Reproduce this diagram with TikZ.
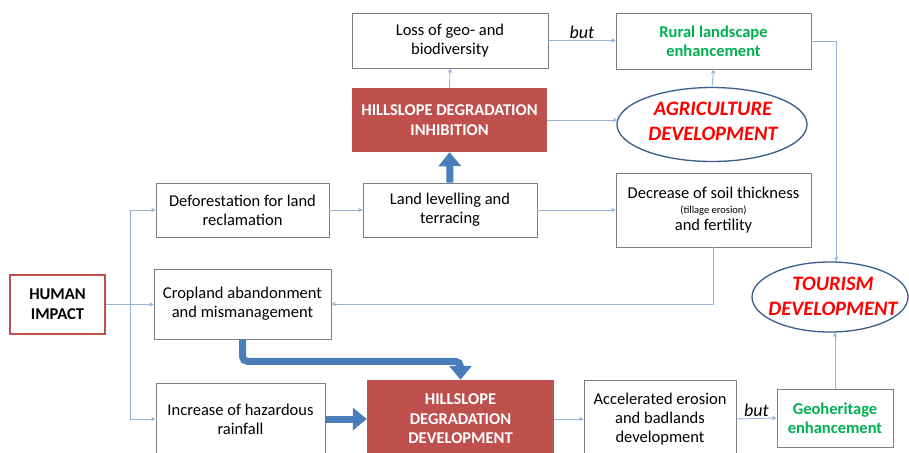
\documentclass[tikz,border=0pt]{standalone}
\usepackage{fontspec}
\setmainfont{Carlito}
\usetikzlibrary{arrows.meta,shapes.geometric,calc}
\definecolor{boxgray}{HTML}{7F7F7F}
\definecolor{hred}{HTML}{C0504D}
\definecolor{ellblue}{HTML}{385D8A}
\definecolor{thinblue}{HTML}{95B3D7}
\definecolor{thickblue}{HTML}{4A7EBB}
\definecolor{ggreen}{HTML}{00B050}
\tikzset{
  box/.style={draw=boxgray, line width=0.9pt, fill=white, align=center, inner sep=0pt,
    font=\fontsize{16.5}{19}\selectfont},
  redbox/.style={fill=hred, text=white, align=center, inner sep=0pt,
    font=\fontsize{16.5}{19.5}\selectfont\bfseries},
  ellshape/.style={ellipse, draw=ellblue, line width=1.3pt, fill=white, inner sep=0pt},
  elltext/.style={text=red, align=center, inner sep=0pt,
    font=\fontsize{20.5}{25}\selectfont\bfseries\itshape},
  thinline/.style={draw=thinblue, line width=0.9pt, -{Stealth[length=4.5pt,width=4.5pt]}},
  thickline/.style={draw=thickblue, line width=7pt, -{Triangle[length=14pt,width=22pt]}},
  butlabel/.style={font=\fontsize{18}{20}\selectfont\itshape, inner sep=1pt}
}
\begin{document}
\begin{tikzpicture}[x=1pt,y=-1pt]
\useasboundingbox (0,0) rectangle (909,452);
\clip (0,0) rectangle (909,452);
% nodes
\node[box, draw=hred, line width=1.3pt, font=\fontsize{16.5}{20}\selectfont\bfseries,
  minimum width=95pt, minimum height=59pt] (human) at (57.5,304.5) {HUMAN\\IMPACT};
\node[box, minimum width=173pt, minimum height=54pt] (defo) at (242.5,210) {Deforestation for land\\reclamation};
\node[box, minimum width=177pt, minimum height=70pt] (crop) at (242.5,304) {Cropland abandonment\\and mismanagement};
\node[box, minimum width=169pt, minimum height=72pt] (rain) at (240.5,419) {Increase of hazardous\\rainfall};
\node[box, minimum width=174pt, minimum height=54pt] (level) at (450,210) {Land levelling and\\terracing};
\node[box, minimum width=196pt, minimum height=55pt] (loss) at (450,40.5) {Loss of geo- and\\biodiversity};
\node[redbox, minimum width=195pt, minimum height=64pt] (inhib) at (449.5,120) {HILLSLOPE DEGRADATION\\INHIBITION};
\node[box, text=ggreen, font=\fontsize{16.5}{19}\selectfont\bfseries,
  minimum width=195pt, minimum height=56pt] (rural) at (713.5,41) {Rural landscape\\enhancement};
\node[ellshape, minimum width=190pt, minimum height=74pt] (agri) at (712,124.5) {};
\node[elltext] (agritext) at (713,121) {AGRICULTURE\\DEVELOPMENT};
\node[box, minimum width=195pt, minimum height=74pt] (decr) at (713.5,210)
  {Decrease of soil thickness\\[-4pt]{\fontsize{10.5}{12}\selectfont (tillage erosion)}\\[-2pt]and fertility};
\node[ellshape, minimum width=156pt, minimum height=70pt] (tour) at (830,297) {};
\node[elltext] (tourtext) at (833,296) {TOURISM\\DEVELOPMENT};
\node[box, minimum width=152pt, minimum height=78pt] (accel) at (660,419) {Accelerated erosion\\and badlands\\development};
\node[box, text=ggreen, font=\fontsize{16.5}{19}\selectfont\bfseries,
  minimum width=116pt, minimum height=58pt] (geo) at (835,418) {Geoheritage\\enhancement};
\node[redbox, minimum width=187pt, minimum height=78pt] (dev) at (460.5,419) {HILLSLOPE\\DEGRADATION\\DEVELOPMENT};
% thin connectors
\coordinate (j) at (130,304.5);
\draw[thinline] (human.east) -- (crop.west |- human.east);
\draw[thinline] (j) |- (defo.west);
\draw[thinline] (j) |- (rain.west);
\draw[thinline] (defo.east) -- (level.west);
\draw[thinline] (level.east) -- (decr.west);
\draw[thinline] (inhib.north) -- (loss.south);
\draw[thinline] (inhib.east) -- ($(inhib.east -| agri.west)+(1,0)$);
\draw[thinline] (loss.east) -- node[butlabel, above] (but1) {but} (rural.west |- loss.east);
\draw[thinline] (agri.north) -- (rural.south);
\draw[thinline] (rural.east) -| ([xshift=6pt]tour.north);
\draw[thinline] (decr.south) |- (crop.east);
\draw[thinline] (dev.east) -- (accel.west);
\draw[thinline] (accel.east) -- node[butlabel, above] (but2) {but} (geo.west);
\draw[thinline] (geo.north) -- (geo.north |- tour.south);
% thick connectors
\draw[thickline] (level.north) -- (inhib.south);
\draw[thickline] (rain.east |- dev.west) -- (dev.west);
\draw[thickline, rounded corners=5pt] (crop.south) -- ++(0,22) -| (dev.north);
\end{tikzpicture}
\end{document}
